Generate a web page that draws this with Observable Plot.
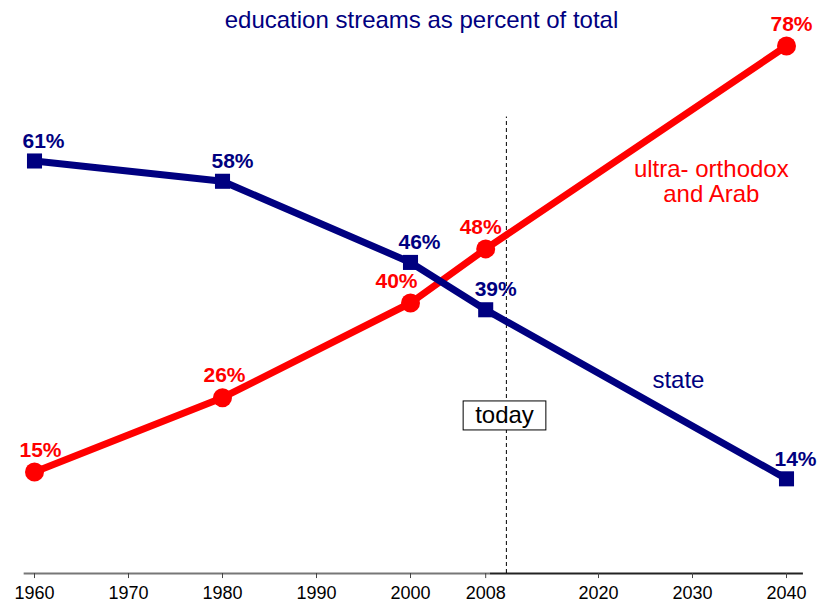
<!DOCTYPE html>
<html>
<head>
<meta charset="utf-8">
<script src="https://cdn.jsdelivr.net/npm/d3@7"></script>
<script src="https://cdn.jsdelivr.net/npm/@observablehq/plot@0.6"></script>
<style>
  body { margin: 0; background: #fff; font-family: "Liberation Sans", Arial, sans-serif; }
  #wrap { position: relative; width: 829px; height: 605px; overflow: hidden; }
  #title { position: absolute; left: 0; width: 829px; top: 6px; text-align: center; padding-left: 14px; box-sizing: border-box;
           font-size: 24px; color: #000080; font-family: "Liberation Sans", Arial, sans-serif; }
</style>
</head>
<body>
<div id="wrap">
  <div id="chart"></div>
  <div id="title">education streams as percent of total</div>
</div>
<script>
const years = [1960, 1980, 2000, 2008, 2040];
const stateValues = [61, 58, 46, 39, 14];
const ultraArabValues = [15, 26, 40, 48, 78];
const tickYears = [1960, 1970, 1980, 1990, 2000, 2008, 2020, 2030, 2040];
const todayYear = 2010.2;
const stateDx = [9, 10, 9, 10, 9];
const ultraDx = [6, 2, -14, -5, 5];
const ultraLabelLines = ["ultra- orthodox", "and Arab"];
const stateLabel = "state";
const todayLabel = "today";

const navy = "#000080";
const red = "#ff0000";
const font = "'Liberation Sans', Arial, sans-serif";

const stateData = years.map((y, i) => ({year: y, value: stateValues[i], dx: stateDx[i]}));
const ultraData = years.map((y, i) => ({year: y, value: ultraArabValues[i], dx: ultraDx[i]}));

const labelMarks = (data, color, dy) => data.map(d =>
  Plot.text([d], {x: "year", y: "value", text: v => v.value + "%", dx: d.dx, dy,
    fill: color, fontWeight: "bold", fontSize: 21})
);

const chart = Plot.plot({
  width: 829,
  height: 605,
  marginLeft: 34,
  marginRight: 43,
  marginTop: 32,
  marginBottom: 32,
  style: {fontFamily: font, background: "#fff"},
  x: {domain: [1960, 2040], axis: null},
  y: {domain: [0, 80], axis: null},
  marks: [
    Plot.ruleY([0], {x1: 1958.9, x2: 2008.5, stroke: "#777", strokeWidth: 2}),
    Plot.ruleY([0], {x1: 2008.5, x2: 2041.8, stroke: "#222", strokeWidth: 2}),
    Plot.ruleX(tickYears, {x: d => d, y1: 0, y2: -0.75, stroke: "#444", strokeWidth: 1}),
    Plot.text(tickYears, {x: d => d, y: 0, dy: 20, text: d => String(d), fontSize: 18, fill: "#000"}),
    Plot.ruleX([todayYear], {y1: 0, y2: 67.5, stroke: "#000", strokeDasharray: "4,3", strokeWidth: 1}),
    Plot.line(ultraData, {x: "year", y: "value", stroke: red, strokeWidth: 7}),
    Plot.line(stateData, {x: "year", y: "value", stroke: navy, strokeWidth: 7}),
    Plot.dot(ultraData, {x: "year", y: "value", r: 9.5, fill: red, stroke: null}),
    Plot.dot(stateData, {x: "year", y: "value", r: 8.5, symbol: "square", fill: navy, stroke: null}),
    ...labelMarks(stateData, navy, -20),
    ...labelMarks(ultraData, red, -22),
    Plot.text([todayLabel], {x: todayYear - 0.2, y: 23.4, text: d => d, fontSize: 24, fill: "#000"}),
    Plot.text(ultraLabelLines, {x: 2032, y: (d, i) => [59.7, 56.1][i], text: d => d, fontSize: 24, fill: red}),
    Plot.text([stateLabel], {x: 2028.5, y: 28.5, text: d => d, fontSize: 24, fill: navy})
  ]
});

document.getElementById("chart").appendChild(chart);
const svg = d3.select(chart);

// box around "today"
svg.selectAll("text").filter(function() { return this.textContent === todayLabel; }).each(function() {
  const b = this.getBBox();
  d3.select(this.parentNode).insert("rect", () => this)
    .attr("transform", this.getAttribute("transform"))
    .attr("x", b.x - 12).attr("y", b.y).attr("width", b.width + 24).attr("height", b.height + 2)
    .attr("fill", "#fff").attr("stroke", "#000").attr("stroke-width", 1);
});
</script>
</body>
</html>
